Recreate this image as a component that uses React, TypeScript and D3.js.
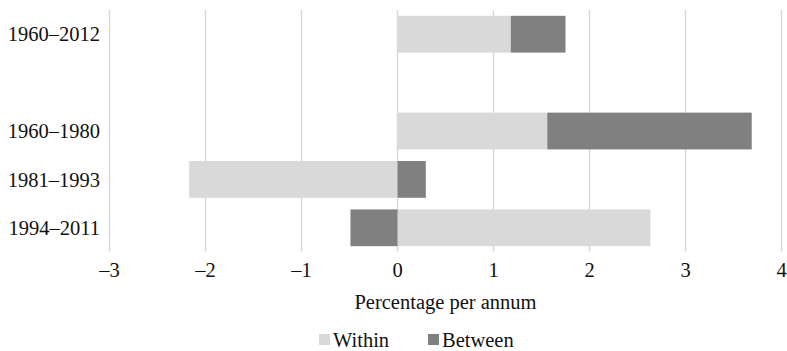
import React from "react";
import * as d3 from "d3";

const categories = ["1960–2012", "", "1960–1980", "1981–1993", "1994–2011"];
const withinValues = [1.18, null, 1.56, -2.17, 2.635];
const betweenValues = [0.57, null, 2.13, 0.295, -0.49];
const xTicks = [-3, -2, -1, 0, 1, 2, 3, 4];
const seriesNames = ["Within", "Between"];
const seriesColors = ["#d9d9d9", "#808080"];

const W = 787;
const H = 351;
const FONT = "'Liberation Serif', 'DejaVu Serif', serif";
const FS = 20.5;

export default function App() {
  const x = d3.scaleLinear().domain([-3, 4]).range([109.5, 781.5]);
  const y = d3.scaleBand<string>().domain(categories.map((c, i) => String(i))).range([10, 252]).paddingInner(0.24).paddingOuter(0.12);

  const bars: JSX.Element[] = [];
  categories.forEach((c, i) => {
    const w = withinValues[i];
    const b = betweenValues[i];
    if (w == null || b == null) return;
    let pos = 0;
    let neg = 0;
    [w, b].forEach((v, s) => {
      let x0: number, x1: number;
      if (v >= 0) {
        x0 = pos; x1 = pos + v; pos = x1;
      } else {
        x0 = neg + v; x1 = neg; neg = x0;
      }
      bars.push(
        <rect
          key={`${i}-${s}`}
          x={x(x0)}
          y={y(String(i))}
          width={x(x1) - x(x0)}
          height={y.bandwidth()}
          fill={seriesColors[s]}
        />
      );
    });
  });

  const cx = (x.range()[0] + x.range()[1]) / 2;

  return (
    <svg width={W} height={H} style={{ position: "absolute", left: 0, top: 0, background: "#fff" }} fontFamily={FONT}>
      {xTicks.map((t) => (
        <line key={t} x1={x(t)} x2={x(t)} y1={10} y2={252} stroke="#d9d9d9" strokeWidth={1.5} />
      ))}
      {bars}
      {categories.map((c, i) => (
        <text key={i} x={100} y={y(String(i))! + y.bandwidth() / 2} dy="0.35em" textAnchor="end" fontSize={FS} fill="#111">
          {c}
        </text>
      ))}
      {xTicks.map((t) => (
        <text key={t} x={x(t)} y={270} dy="0.35em" textAnchor="middle" fontSize={FS} fill="#111">
          {t < 0 ? `–${Math.abs(t)}` : String(t)}
        </text>
      ))}
      <text x={cx} y={302} dy="0.35em" textAnchor="middle" fontSize={FS} fill="#111">
        Percentage per annum
      </text>
      <g>
        <rect x={319} y={334} width={11} height={11} fill={seriesColors[0]} />
        <text x={333} y={339.5} dy="0.35em" fontSize={FS} fill="#111">{seriesNames[0]}</text>
        <rect x={428} y={334} width={11} height={11} fill={seriesColors[1]} />
        <text x={442} y={339.5} dy="0.35em" fontSize={FS} fill="#111">{seriesNames[1]}</text>
      </g>
    </svg>
  );
}
